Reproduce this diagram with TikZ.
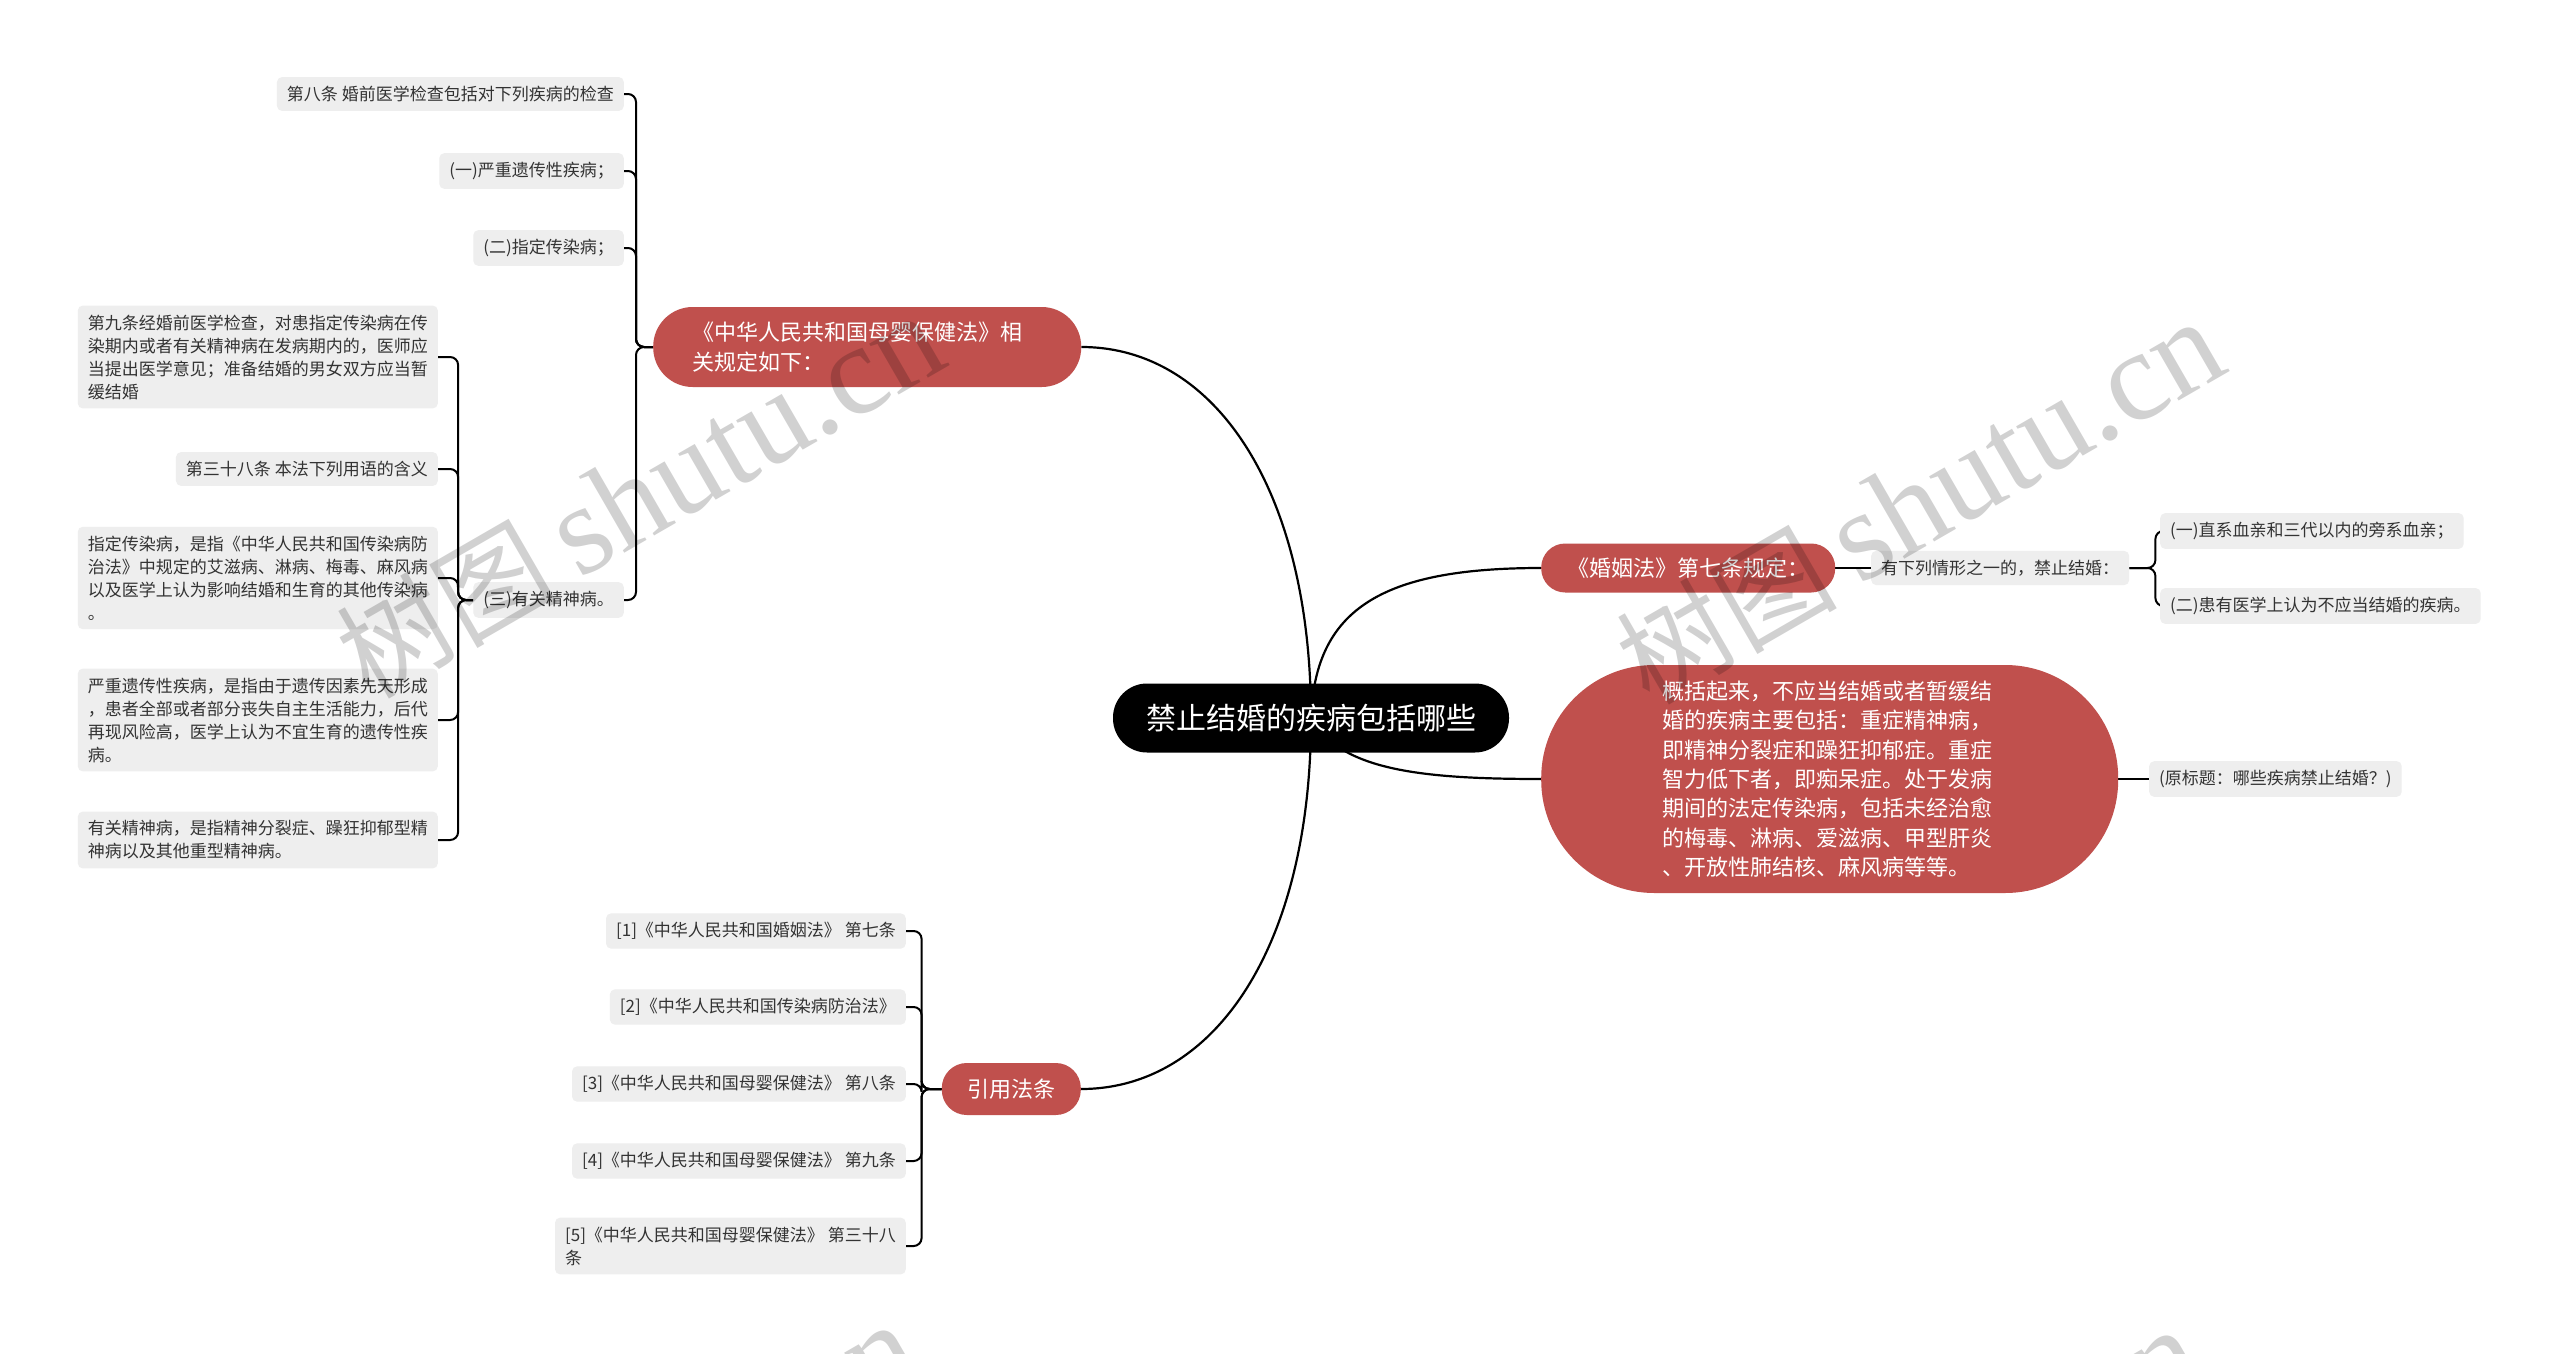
\documentclass[tikz,border=0pt]{standalone}
\usepackage{fontspec}
\setmainfont{Noto Sans CJK SC}
\newfontfamily\wmserif{Liberation Serif}
\usetikzlibrary{backgrounds}
\definecolor{redn}{HTML}{C0504D}
\definecolor{grayn}{HTML}{EEEEEE}
\definecolor{txt}{HTML}{333333}
\tikzset{
  gbox/.style={fill=grayn, rounded corners=5pt, inner xsep=10pt, inner ysep=9pt, text=txt, font=\fontsize{17}{23}\selectfont, align=left},
  rpill/.style={fill=redn, text=white, font=\fontsize{22}{29.4}\selectfont},
  conn/.style={draw=black, line width=2pt, rounded corners=8pt},
  mainconn/.style={draw=black, line width=2.2pt},
  wmark/.style={rotate=30, text=black, text opacity=0.18, inner sep=0pt}
}
\newcommand{\wmtext}{{\fontsize{110}{110}\selectfont 树图}\hspace{22pt}{\wmserif\fontsize{128}{128}\selectfont shutu.cn}}
\begin{document}
\begin{tikzpicture}[x=1pt, y=-1pt]
\useasboundingbox (0,0) rectangle (2560,1354);
\begin{scope}[on background layer]
  \fill[white] (0,0) rectangle (2560,1354);
\end{scope}

% central node
\node[fill=black, text=white, rounded corners=34pt, minimum width=396pt, minimum height=69pt, font=\fontsize{30}{36}\selectfont] (M) at (1311,718) {禁止结婚的疾病包括哪些};

% first level
\node[rpill, rounded corners=39.5pt, text width=350pt, align=left, inner xsep=39pt, minimum height=80pt, anchor=west] (A) at (653,347) {《中华人民共和国母婴保健法》相\\关规定如下：};
\node[rpill, rounded corners=24pt, minimum width=294pt, minimum height=49pt, anchor=west] (B) at (1541,568) {《婚姻法》第七条规定：};
\node[rpill, rounded corners=113pt, minimum width=577pt, minimum height=228pt, text width=335pt, align=left, anchor=west] (C) at (1541,779) {概括起来，不应当结婚或者暂缓结\\婚的疾病主要包括：重症精神病，\\即精神分裂症和躁狂抑郁症。重症\\智力低下者，即痴呆症。处于发病\\期间的法定传染病，包括未经治愈\\的梅毒、淋病、爱滋病、甲型肝炎\\、开放性肺结核、麻风病等等。};
\node[rpill, rounded corners=25pt, minimum width=139pt, minimum height=52pt, anchor=east] (D) at (1081,1089) {引用法条};

% children of A
\node[gbox, anchor=east] (L1) at (624,94) {第八条 婚前医学检查包括对下列疾病的检查};
\node[gbox, anchor=east] (L2) at (624,171) {(一)严重遗传性疾病；};
\node[gbox, anchor=east] (L3) at (624,248) {(二)指定传染病；};
\node[gbox, anchor=east] (L4) at (624,600) {(三)有关精神病。};

% children of L4
\node[gbox, anchor=east] (K1) at (438,357) {第九条经婚前医学检查，对患指定传染病在传\\染期内或者有关精神病在发病期内的，医师应\\当提出医学意见；准备结婚的男女双方应当暂\\缓结婚};
\node[gbox, anchor=east] (K2) at (438,469) {第三十八条 本法下列用语的含义};
\node[gbox, anchor=east] (K3) at (438,578) {指定传染病，是指《中华人民共和国传染病防\\治法》中规定的艾滋病、淋病、梅毒、麻风病\\以及医学上认为影响结婚和生育的其他传染病\\。};
\node[gbox, anchor=east] (K4) at (438,720) {严重遗传性疾病，是指由于遗传因素先天形成\\，患者全部或者部分丧失自主生活能力，后代\\再现风险高，医学上认为不宜生育的遗传性疾\\病。};
\node[gbox, anchor=east] (K5) at (438,840) {有关精神病，是指精神分裂症、躁狂抑郁型精\\神病以及其他重型精神病。};

% children of B
\node[gbox, anchor=west] (G) at (1871,568) {有下列情形之一的，禁止结婚：};
\node[gbox, anchor=west] (R1) at (2160,531) {(一)直系血亲和三代以内的旁系血亲；};
\node[gbox, anchor=west] (R2) at (2160,606) {(二)患有医学上认为不应当结婚的疾病。};

% child of C
\node[gbox, anchor=west] (O) at (2149,779) {(原标题：哪些疾病禁止结婚？)};

% children of D
\node[gbox, anchor=east] (D1) at (906,931) {[1]《中华人民共和国婚姻法》 第七条};
\node[gbox, anchor=east] (D2) at (906,1007) {[2]《中华人民共和国传染病防治法》};
\node[gbox, anchor=east] (D3) at (906,1084) {[3]《中华人民共和国母婴保健法》 第八条};
\node[gbox, anchor=east] (D4) at (906,1161) {[4]《中华人民共和国母婴保健法》 第九条};
\node[gbox, anchor=east] (D5) at (906,1246) {[5]《中华人民共和国母婴保健法》 第三十八\\条};

\begin{scope}[on background layer]
  \draw[mainconn] (M.center) .. controls (1311,490) and (1215,347) .. (A.east);
  \draw[mainconn] (M.center) .. controls (1315,610) and (1380,568) .. (B.west);
  \draw[mainconn] (M.center) .. controls (1340,770) and (1420,779) .. (C.west);
  \draw[mainconn] (M.center) .. controls (1311,946) and (1215,1089) .. (D.east);

  \foreach \n in {L1,L2,L3,L4} \draw[conn] (A.west) -- ++(-17,0) |- (\n.east);
  \foreach \n in {K1,K2,K3,K4,K5} \draw[conn] (L4.west) -- ++(-15,0) |- (\n.east);
  \draw[conn] (B.east) -- (G.west);
  \foreach \n in {R1,R2} \draw[conn] (G.east) -- ++(26,0) |- (\n.west);
  \draw[conn] (C.east) -- (O.west);
  \foreach \n in {D1,D2,D3,D4,D5} \draw[conn] (D.west) -- ++(-20,0) |- (\n.east);
\end{scope}

% watermarks
\begin{scope}
  \clip (0,0) rectangle (2560,1354);
  \node[wmark] (W1) at (640,496) {\wmtext};
  \node[wmark] (W2) at (1920,502) {\wmtext};
  \node[wmark] (W3) at (615,1505) {\wmtext};
  \node[wmark] (W4) at (1898,1510) {\wmtext};
\end{scope}
\end{tikzpicture}
\end{document}
